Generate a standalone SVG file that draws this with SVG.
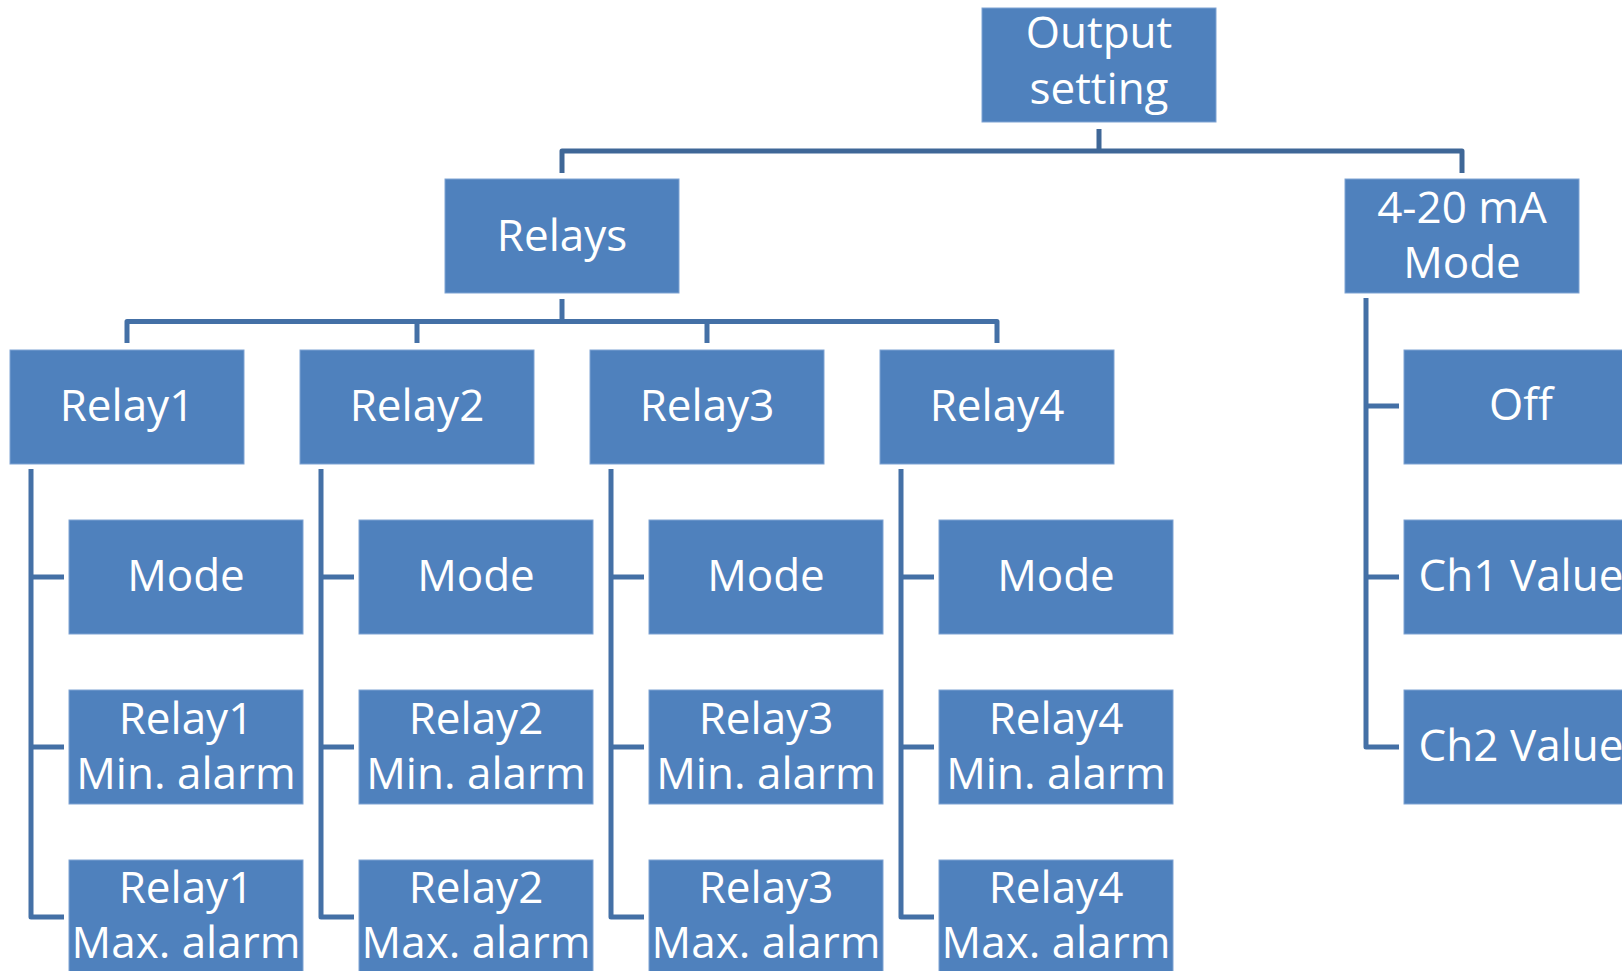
<svg xmlns="http://www.w3.org/2000/svg" width="1622" height="971" viewBox="0 0 1622 971">
<style>
.box{fill:#4F81BD;stroke:#7FA3D3;stroke-width:1}
.t{font-family:"Open Sans","Liberation Sans",sans-serif;font-size:44px;fill:#FFFFFF;text-anchor:middle}
.c{fill:none;stroke:#4470A6;stroke-width:5;stroke-linejoin:round}
.c2{fill:none;stroke:#3F6797;stroke-width:5;stroke-linejoin:round}
</style>
<rect width="1622" height="971" fill="#FFFFFF"/>
<g id="connectors">
<path class="c2" d="M1099,129 V151 M562,173 V151 H1462 V173"/>
<path class="c" d="M562,299 V321.5 M127,343 V321.5 H997 V343 M417,321.5 V343 M707,321.5 V343"/>
<path class="c" d="M31,469 V917 H64 M31,577 H64 M31,747 H64"/>
<path class="c" d="M321,469 V917 H354 M321,577 H354 M321,747 H354"/>
<path class="c" d="M611,469 V917 H644 M611,577 H644 M611,747 H644"/>
<path class="c" d="M901,469 V917 H934 M901,577 H934 M901,747 H934"/>
<path class="c" d="M1366,298 V747 H1399 M1366,406 H1399 M1366,577 H1399"/>
</g>
<g id="output-setting"><rect class="box" x="982" y="8" width="234" height="114"/><text class="t" x="1099" y="48">Output</text><text class="t" x="1099" y="103.5">setting</text></g>
<g id="relays"><rect class="box" x="445" y="179" width="234" height="114"/><text class="t" x="562" y="251">Relays</text></g>
<g id="ma-mode"><rect class="box" x="1345" y="179" width="234" height="114"/><text class="t" x="1462" y="223">4-20 mA</text><text class="t" x="1462" y="278">Mode</text></g>

<g id="relay1"><rect class="box" x="10" y="350" width="234" height="114"/><text class="t" x="127" y="421">Relay1</text></g>
<g id="relay2"><rect class="box" x="300" y="350" width="234" height="114"/><text class="t" x="417" y="421">Relay2</text></g>
<g id="relay3"><rect class="box" x="590" y="350" width="234" height="114"/><text class="t" x="707" y="421">Relay3</text></g>
<g id="relay4"><rect class="box" x="880" y="350" width="234" height="114"/><text class="t" x="997" y="421">Relay4</text></g>

<g id="relay1-mode"><rect class="box" x="69" y="520" width="234" height="114"/><text class="t" x="186" y="591">Mode</text></g>
<g id="relay2-mode"><rect class="box" x="359" y="520" width="234" height="114"/><text class="t" x="476" y="591">Mode</text></g>
<g id="relay3-mode"><rect class="box" x="649" y="520" width="234" height="114"/><text class="t" x="766" y="591">Mode</text></g>
<g id="relay4-mode"><rect class="box" x="939" y="520" width="234" height="114"/><text class="t" x="1056" y="591">Mode</text></g>

<g id="relay1-min"><rect class="box" x="69" y="690" width="234" height="114"/><text class="t" x="186" y="734">Relay1</text><text class="t" x="186" y="789">Min. alarm</text></g>
<g id="relay2-min"><rect class="box" x="359" y="690" width="234" height="114"/><text class="t" x="476" y="734">Relay2</text><text class="t" x="476" y="789">Min. alarm</text></g>
<g id="relay3-min"><rect class="box" x="649" y="690" width="234" height="114"/><text class="t" x="766" y="734">Relay3</text><text class="t" x="766" y="789">Min. alarm</text></g>
<g id="relay4-min"><rect class="box" x="939" y="690" width="234" height="114"/><text class="t" x="1056" y="734">Relay4</text><text class="t" x="1056" y="789">Min. alarm</text></g>

<g id="relay1-max"><rect class="box" x="69" y="860" width="234" height="114"/><text class="t" x="186" y="903">Relay1</text><text class="t" x="186" y="958">Max. alarm</text></g>
<g id="relay2-max"><rect class="box" x="359" y="860" width="234" height="114"/><text class="t" x="476" y="903">Relay2</text><text class="t" x="476" y="958">Max. alarm</text></g>
<g id="relay3-max"><rect class="box" x="649" y="860" width="234" height="114"/><text class="t" x="766" y="903">Relay3</text><text class="t" x="766" y="958">Max. alarm</text></g>
<g id="relay4-max"><rect class="box" x="939" y="860" width="234" height="114"/><text class="t" x="1056" y="903">Relay4</text><text class="t" x="1056" y="958">Max. alarm</text></g>

<g id="off"><rect class="box" x="1404" y="350" width="234" height="114"/><text class="t" x="1521" y="420">Off</text></g>
<g id="ch1"><rect class="box" x="1404" y="520" width="234" height="114"/><text class="t" x="1521" y="591">Ch1 Value</text></g>
<g id="ch2"><rect class="box" x="1404" y="690" width="234" height="114"/><text class="t" x="1521" y="761">Ch2 Value</text></g>
</svg>
